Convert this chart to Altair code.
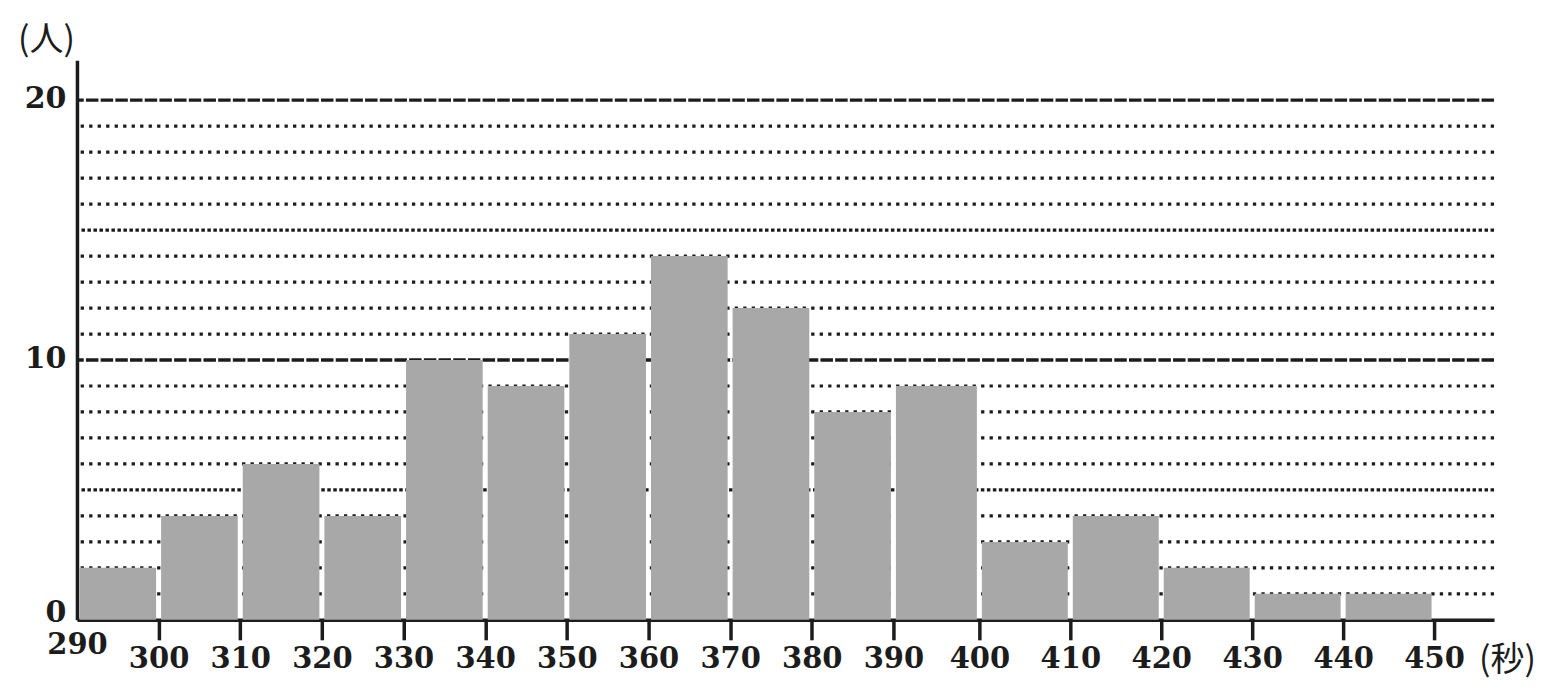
import altair as alt
import pandas as pd

# --- data ---
BIN_START = [290, 300, 310, 320, 330, 340, 350, 360, 370, 380, 390, 400, 410, 420, 430, 440]
BIN_END = [300, 310, 320, 330, 340, 350, 360, 370, 380, 390, 400, 410, 420, 430, 440, 450]
COUNTS = [2, 4, 6, 4, 10, 9, 11, 14, 12, 8, 9, 3, 4, 2, 1, 1]
X_TICKS = [290, 300, 310, 320, 330, 340, 350, 360, 370, 380, 390, 400, 410, 420, 430, 440, 450]
Y_TICKS = [0, 10, 20]
GRID_MINOR = [1, 2, 3, 4, 6, 7, 8, 9, 11, 12, 13, 14, 16, 17, 18, 19]
GRID_FIVE = [5, 15]
GRID_TEN = [10, 20]

bars = pd.DataFrame({"start": BIN_START, "end": BIN_END, "count": COUNTS})

W, H = 1418, 560
FONT = "DejaVu Serif"
INK = "#1c1c1c"

xscale = alt.Scale(domain=[290, 390, 400, 450, 456.6], range=[0, 817, 903, 1358, 1418],
                   nice=False, zero=False)
yscale = alt.Scale(domain=[0, 21.54], nice=False, zero=True)

xaxis = alt.Axis(
    values=X_TICKS, format="d", grid=False,
    domainColor=INK, domainWidth=3.5,
    tickColor=INK, tickWidth=3.5, tickSize=20,
    tickOpacity={"condition": {"test": "datum.value == 290", "value": 0}, "value": 1},
    labelBaseline={"condition": {"test": "datum.value == 290", "value": "middle"}, "value": "top"},
    labelPadding=5, labelFont=FONT, labelFontSize=29, labelFontWeight="bold",
    labelColor=INK, labelOverlap=False, labelFlush=False,
    title="(秒)", titleFont="Noto Sans CJK JP", titleFontSize=34, titleFontWeight="normal",
    titleColor=INK, titleX=1431, titleY=41, titleAlign="center", titleBaseline="middle",
    titleAngle=0,
)

yaxis = alt.Axis(
    values=Y_TICKS, format="d", grid=False, ticks=False,
    domainColor=INK, domainWidth=3.5,
    labelPadding=11, labelFont=FONT, labelFontSize=30, labelFontWeight="bold",
    labelColor=INK, labelFlush=False,
    labelOffset={"condition": {"test": "datum.value == 0", "value": -7}, "value": -2},
    title="(人)", titleFont="Noto Sans CJK JP", titleFontSize=34, titleFontWeight="normal",
    titleColor=INK, titleX=-31, titleY=-20, titleAlign="center", titleBaseline="middle",
    titleAngle=0,
)

def grid_layer(vals, dash, width):
    return alt.Chart(pd.DataFrame({"count": vals})).mark_rule(
        color=INK, strokeDash=dash, strokeWidth=width
    ).encode(y=alt.Y("count:Q", scale=yscale, axis=yaxis))

g_minor = grid_layer(GRID_MINOR, [3.3, 5.2], 3.2)
g_five = grid_layer(GRID_FIVE, [3.5, 2.5], 3.3)
g_ten = grid_layer(GRID_TEN, [12.5, 2.2], 3.3)

bar_layer = alt.Chart(bars).mark_bar(
    color="#a8a8a8", xOffset=2.5, x2Offset=-2.5
).encode(
    x=alt.X("start:Q", scale=xscale, axis=xaxis),
    x2="end:Q",
    y=alt.Y("count:Q", scale=yscale, axis=yaxis),
    y2=alt.datum(0),
)

chart = alt.layer(g_minor, g_five, g_ten, bar_layer).properties(
    width=W, height=H,
    background="white",
    autosize=alt.AutoSizeParams(type="none"),
    padding={"left": 69, "top": 52, "right": 50, "bottom": 70},
).configure_view(stroke=None, strokeWidth=0)

chart.save("out.html", embed_options={"renderer": "svg", "actions": False})
